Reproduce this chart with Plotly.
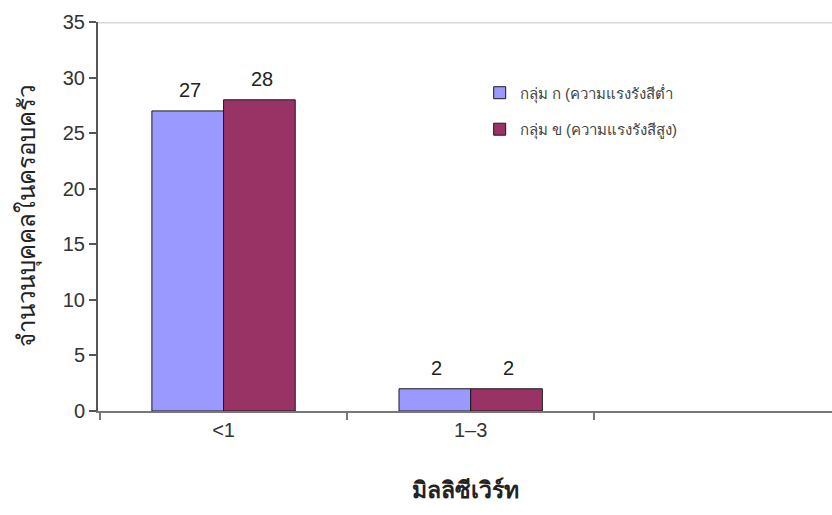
import plotly.graph_objects as go

# Dose bands (millisievert) and household counts per group
categories = ["<1", "1–3"]
group_low = [27, 2]    # กลุ่ม ก (ความแรงรังสีต่ำ)
group_high = [28, 2]   # กลุ่ม ข (ความแรงรังสีสูง)
series_names = ["กลุ่ม ก (ความแรงรังสีต่ำ", "กลุ่ม ข (ความแรงรังสีสูง)"]
y_ticks = [0, 5, 10, 15, 20, 25, 30, 35]

FONT = "Liberation Sans, Arial, DejaVu Sans, sans-serif"

fig = go.Figure()
series = [
    (series_names[0], group_low, "#9999FF", -36),
    (series_names[1], group_high, "#993366", 36),
]
for i, (name, vals, color, shift) in enumerate(series):
    fig.add_trace(go.Bar(
        x=categories, y=vals, name=name, legendgroup=f"g{i}",
        marker=dict(color=color, line=dict(color="#1a1a1a", width=1)),
    ))
    # value labels above each bar
    for c, v in zip(categories, vals):
        fig.add_annotation(x=c, y=v, text=str(v), showarrow=False,
                           xshift=shift + 2, yshift=8, yanchor="bottom",
                           font=dict(size=20, color="#222222", family=FONT))

fig.update_layout(
    width=832, height=515,
    margin=dict(l=98, r=0, t=22, b=104),
    paper_bgcolor="white", plot_bgcolor="white",
    barmode="group", bargap=0.42, bargroupgap=0,
    font=dict(family=FONT, color="#333333"),
    showlegend=True,
    legend=dict(x=0.52, y=0.86, xanchor="left", yanchor="top",
                bgcolor="rgba(0,0,0,0)", font=dict(size=15, color="#444444"),
                itemwidth=30, tracegroupgap=14),
    xaxis=dict(
        type="category", categoryorder="array", categoryarray=categories,
        range=[-0.508, 2.462], tickson="boundaries",
        showline=True, linecolor="#777777", linewidth=2,
        ticks="outside", ticklen=7, tickcolor="#777777", tickwidth=2,
        tickfont=dict(size=20, color="#333333"),
        showgrid=False,
        title=dict(text="<b>มิลลิซีเวิร์ท</b>", font=dict(size=23, color="#222222"),
                   standoff=42),
    ),
    yaxis=dict(
        range=[0, 35], tickvals=y_ticks,
        showline=True, linecolor="#555555", linewidth=2,
        ticks="outside", ticklen=7, tickcolor="#555555", tickwidth=2,
        tickfont=dict(size=20, color="#333333"),
        showgrid=False, zeroline=False,
        title=dict(text="จำนวนบุคคลในครอบครัว", font=dict(size=24, color="#222222"),
                   standoff=20),
    ),
)

# light frame line along the top of the plotting area
fig.add_shape(type="line", xref="paper", yref="y", x0=0, x1=1, y0=35, y1=35,
              line=dict(color="#d8d8d8", width=3), layer="below")

fig.write_html("out.html")
